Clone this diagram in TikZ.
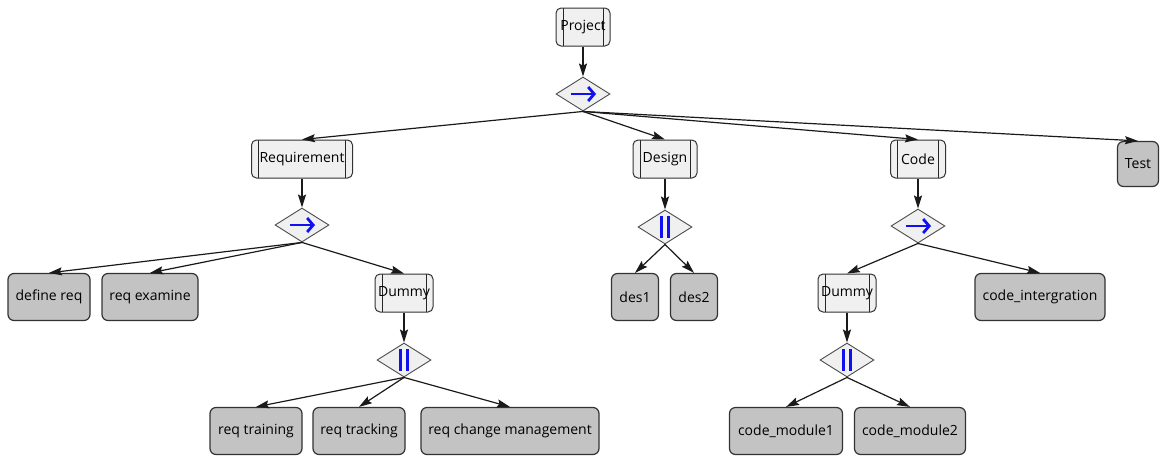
\documentclass[tikz,border=0pt]{standalone}
\usepackage{fontspec}
\setmainfont{Open Sans}
\usetikzlibrary{shapes.geometric,arrows.meta}
\definecolor{subfill}{HTML}{F0F0F0}
\definecolor{leaffill}{HTML}{C3C3C3}
\definecolor{edgecol}{HTML}{1A1A1A}
\definecolor{opblue}{HTML}{1010F0}
\begin{document}
\begin{tikzpicture}[x=1pt,y=-1pt,
  font=\fontsize{14}{16}\selectfont,
  sub/.style={draw=black!80, line width=1pt, fill=subfill, rounded corners=5pt,
    minimum height=38pt, inner xsep=0pt, inner ysep=0pt,
    path picture={
      \draw[black!85, line width=1pt] ([xshift=7pt]path picture bounding box.north west) -- ([xshift=7pt]path picture bounding box.south west);
      \draw[black!85, line width=1pt] ([xshift=-7pt]path picture bounding box.north east) -- ([xshift=-7pt]path picture bounding box.south east);}},
  leaf/.style={draw=black!80, line width=1.2pt, fill=leaffill, rounded corners=6pt,
    minimum height=47pt, inner xsep=0pt, inner ysep=0pt},
  opdiam/.style={diamond, draw=black!70, line width=0.9pt, fill=subfill,
    minimum width=54pt, minimum height=34pt, inner sep=0pt},
  seqop/.style={opdiam, path picture={
      \draw[opblue, line width=2.8pt, -{Straight Barb[length=6pt,width=14pt]}]
        ([xshift=-12pt]path picture bounding box.center) -- ([xshift=13pt]path picture bounding box.center);}},
  parop/.style={opdiam, path picture={
      \draw[opblue, line width=2.4pt]
        ([xshift=-3.5pt,yshift=11pt]path picture bounding box.center) -- ([xshift=-3.5pt,yshift=-11pt]path picture bounding box.center);
      \draw[opblue, line width=2.4pt]
        ([xshift=3.5pt,yshift=11pt]path picture bounding box.center) -- ([xshift=3.5pt,yshift=-11pt]path picture bounding box.center);}},
  link/.style={draw=edgecol, line width=1.2pt, -{Stealth[length=13pt,width=8pt,inset=2pt]}}
]
\useasboundingbox (0,0) rectangle (1160,456);

% top level
\node[sub, minimum width=54pt] (P) at (583,27) {Project};
\node[seqop] (D0) at (583,94) {};

\node[sub, minimum width=101pt] (R) at (302,159) {Requirement};
\node[sub, minimum width=64pt] (Des) at (665,159) {Design};
\node[sub, minimum width=55pt] (C) at (918,159) {Code};
\node[leaf, minimum width=41pt, minimum height=45pt] (T) at (1138,164) {Test};

% requirement branch
\node[seqop] (D1) at (302,225) {};
\node[leaf, minimum width=82pt] (dr) at (49,297) {define req};
\node[leaf, minimum width=96pt] (re) at (150,297) {req examine};
\node[sub, minimum width=58pt] (dm1) at (404,293) {Dummy};
\node[parop] (D4) at (404,360) {};
\node[leaf, minimum width=92pt] (rt) at (256,431) {req training};
\node[leaf, minimum width=92pt] (rk) at (359,431) {req tracking};
\node[leaf, minimum width=178pt] (rc) at (510,431) {req change management};

% design branch
\node[parop] (D2) at (665,227) {};
\node[leaf, minimum width=47pt] (d1) at (635,297) {des1};
\node[leaf, minimum width=47pt] (d2) at (694,297) {des2};

% code branch
\node[seqop] (D3) at (918,226) {};
\node[sub, minimum width=58pt] (dm2) at (847,293) {Dummy};
\node[leaf, minimum width=130pt] (ci) at (1040,297) {code\_intergration};
\node[parop] (D5) at (847,360) {};
\node[leaf, minimum width=113pt] (cm1) at (786,431) {code\_module1};
\node[leaf, minimum width=111pt] (cm2) at (910,431) {code\_module2};

% connectors
\draw[link] (P.south) -- (D0.north);
\draw[link] (D0.south) -- (R.north);
\draw[link] (D0.south) -- (Des.north);
\draw[link] (D0.south) -- (C.north);
\draw[link] (D0.south) -- (T.north);

\draw[link] (R.south) -- (D1.north);
\draw[link] (D1.south) -- (dr.north);
\draw[link] (D1.south) -- (re.north);
\draw[link] (D1.south) -- (dm1.north);
\draw[link] (dm1.south) -- (D4.north);
\draw[link] (D4.south) -- (rt.north);
\draw[link] (D4.south) -- (rk.north);
\draw[link] (D4.south) -- (rc.north);

\draw[link] (Des.south) -- (D2.north);
\draw[link] (D2.south) -- (d1.north);
\draw[link] (D2.south) -- (d2.north);

\draw[link] (C.south) -- (D3.north);
\draw[link] (D3.south) -- (dm2.north);
\draw[link] (D3.south) -- (ci.north);
\draw[link] (dm2.south) -- (D5.north);
\draw[link] (D5.south) -- (cm1.north);
\draw[link] (D5.south) -- (cm2.north);
\end{tikzpicture}
\end{document}
